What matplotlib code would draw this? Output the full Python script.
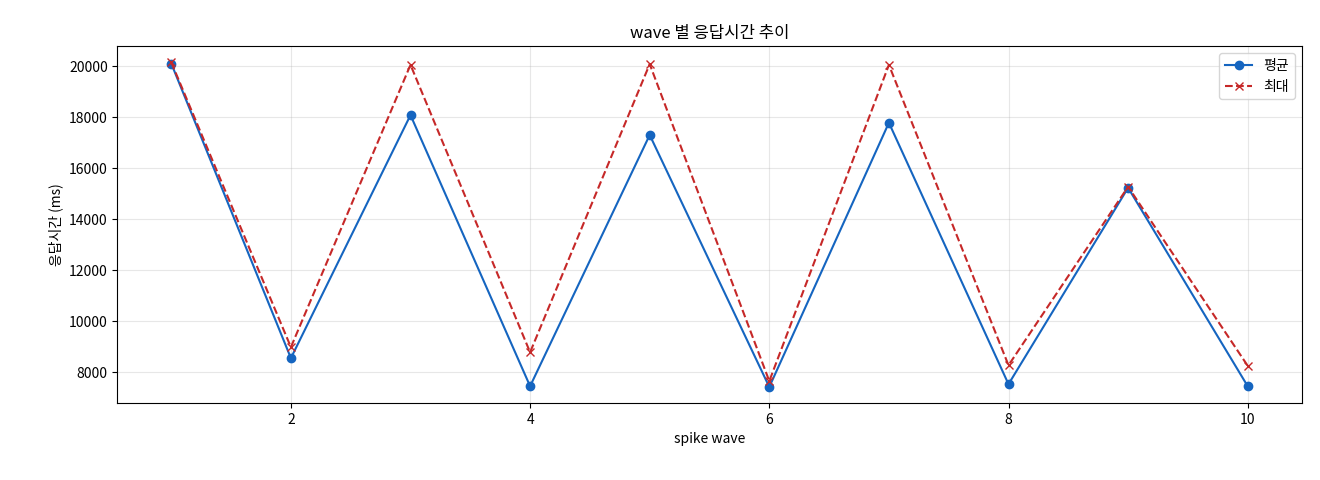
import matplotlib
matplotlib.use("Agg")
import matplotlib.pyplot as plt

plt.rcParams['font.family'] = ['Noto Sans CJK KR', 'DejaVu Sans']

waves = [1, 2, 3, 4, 5, 6, 7, 8, 9, 10]
avg_ms = [20100, 8550, 18080, 7450, 17300, 7420, 17780, 7530, 15230, 7450]
max_ms = [20150, 8980, 20050, 8780, 20080, 7650, 20050, 8270, 15270, 8250]

fig, ax = plt.subplots(figsize=(13.2, 4.8), dpi=100)
ax.plot(waves, avg_ms, marker="o", color="#1565c0", label="평균")
ax.plot(waves, max_ms, marker="x", linestyle="--", color="#c62828", label="최대")
ax.set_title("wave 별 응답시간 추이")
ax.set_xlabel("spike wave")
ax.set_ylabel("응답시간 (ms)")
ax.grid(True, alpha=0.3)
ax.legend(loc="upper right")
fig.subplots_adjust(left=0.089, right=0.986, top=0.904, bottom=0.16)
fig.savefig("out.png")
